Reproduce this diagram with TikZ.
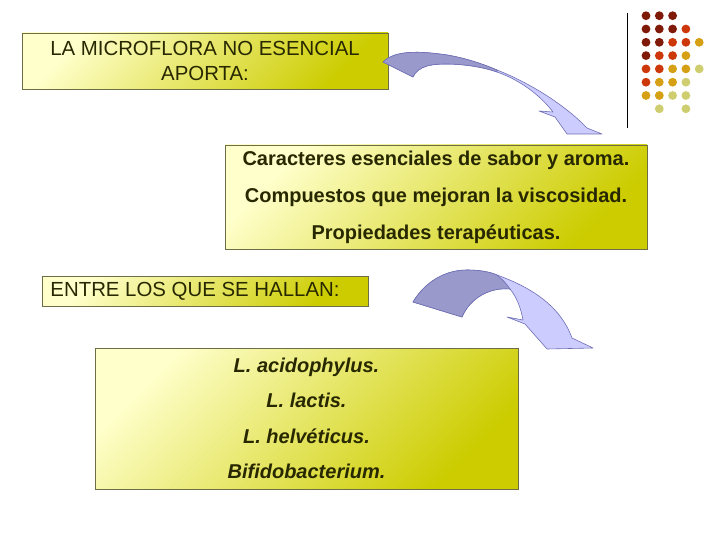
\documentclass[tikz,border=0pt]{standalone}
\usepackage{fontspec}
\setmainfont{Liberation Sans}
\usepackage{tikz}

\definecolor{boxlight}{RGB}{255,255,204}
\definecolor{boxdark}{RGB}{204,204,0}
\definecolor{boxline}{RGB}{110,110,70}
\definecolor{textdark}{RGB}{40,40,0}
\definecolor{arrowback}{RGB}{153,153,204}
\definecolor{arrowfront}{RGB}{204,204,255}
\definecolor{arrowline}{RGB}{110,110,180}
\definecolor{dotdark}{RGB}{128,26,8}
\definecolor{dotred}{RGB}{204,56,10}
\definecolor{dotgold}{RGB}{214,160,20}
\definecolor{dotpale}{RGB}{206,206,112}

\tikzset{
  caja/.style={draw=boxline, top color=boxlight, bottom color=boxdark,
    shading angle=45, text=textdark, inner sep=0pt, align=center},
  flecha/.style={draw=arrowline, line width=0.6pt, line join=round}
}

\begin{document}
\begin{tikzpicture}[x=1pt,y=-1pt]
\useasboundingbox (0,0) rectangle (720,540);

% cajas de texto
\node[caja, minimum width=366pt, minimum height=56pt,
  font=\fontsize{20.4}{25}\selectfont] (aporta) at (205,61)
  {LA MICROFLORA NO ESENCIAL\\APORTA:};
\node[caja, minimum width=422pt, minimum height=104pt,
  font=\bfseries\fontsize{20}{37}\selectfont] (caracteres) at (436,197)
  {\raisebox{-3pt}{Caracteres esenciales de sabor y aroma.}\\
   \raisebox{-3pt}{Compuestos que mejoran la viscosidad.}\\
   \raisebox{-3pt}{Propiedades terapéuticas.}};
\node[caja, minimum width=326pt, minimum height=30pt,
  font=\fontsize{20.4}{25}\selectfont] (hallan) at (205,291)
  {\hspace*{-20pt}ENTRE LOS QUE SE HALLAN:};
\node[caja, minimum width=423pt, minimum height=141pt,
  font=\bfseries\itshape\fontsize{20}{35.3}\selectfont] (especies) at (306.5,418.5)
  {L. acidophylus.\\ L. lactis.\\ L. helvéticus.\\ Bifidobacterium.};

% flecha curva superior
\filldraw[flecha, fill=arrowfront] (383,62) .. controls (395,50) and (420,51) .. (447,55)
  .. controls (465,58) and (483,64) .. (497,70)
  .. controls (530,83) and (565,105) .. (587,128)
  -- (602,134) -- (567,134) -- (555,117) -- (539,111) -- (553,112)
  .. controls (540,95) and (520,80) .. (497,72)
  .. controls (475,64) and (440,62) .. (427,66)
  .. controls (420,68) and (415,72) .. (413,77) -- cycle;
\filldraw[flecha, fill=arrowback] (383,62) .. controls (395,50) and (420,51) .. (447,55)
  .. controls (465,58) and (483,64) .. (497,70) -- (497,72)
  .. controls (475,64) and (440,62) .. (427,66)
  .. controls (420,68) and (415,72) .. (413,77) -- cycle;

% flecha curva inferior
\filldraw[flecha, fill=arrowfront] (413,302) .. controls (425,282) and (445,270) .. (467,270)
  .. controls (480,270) and (490,272) .. (497,275)
  .. controls (530,287) and (560,305) .. (572,338)
  -- (593,348) -- (547,349) -- (525,324) -- (507,317) -- (523,320)
  .. controls (521,308) and (516,296) .. (510,289)
  .. controls (490,287) and (470,298) .. (462,317) -- cycle;
\filldraw[flecha, fill=arrowback] (413,302) .. controls (425,282) and (445,270) .. (467,270)
  .. controls (480,270) and (490,272) .. (497,275)
  .. controls (502,279) and (507,284) .. (510,289)
  .. controls (490,287) and (470,298) .. (462,317) -- cycle;

% adorno de la esquina
\draw[line width=0.8pt] (627,13) -- (627,128);
\foreach \c/\r/\col in {1/1/dotdark,2/1/dotdark,3/1/dotdark,
    1/2/dotdark,2/2/dotdark,3/2/dotdark,4/2/dotred,
    1/3/dotdark,2/3/dotdark,3/3/dotred,4/3/dotred,5/3/dotgold,
    1/4/dotdark,2/4/dotred,3/4/dotred,4/4/dotgold,
    1/5/dotred,2/5/dotred,3/5/dotgold,4/5/dotgold,5/5/dotpale,
    1/6/dotred,2/6/dotgold,3/6/dotgold,4/6/dotpale,
    1/7/dotgold,2/7/dotgold,3/7/dotpale,4/7/dotpale,
    2/8/dotpale,4/8/dotpale} {
\fill[\col] ({646+13.3*(\c-1)},{15.7+13.3*(\r-1)}) circle (4.4);
}
\end{tikzpicture}
\end{document}
